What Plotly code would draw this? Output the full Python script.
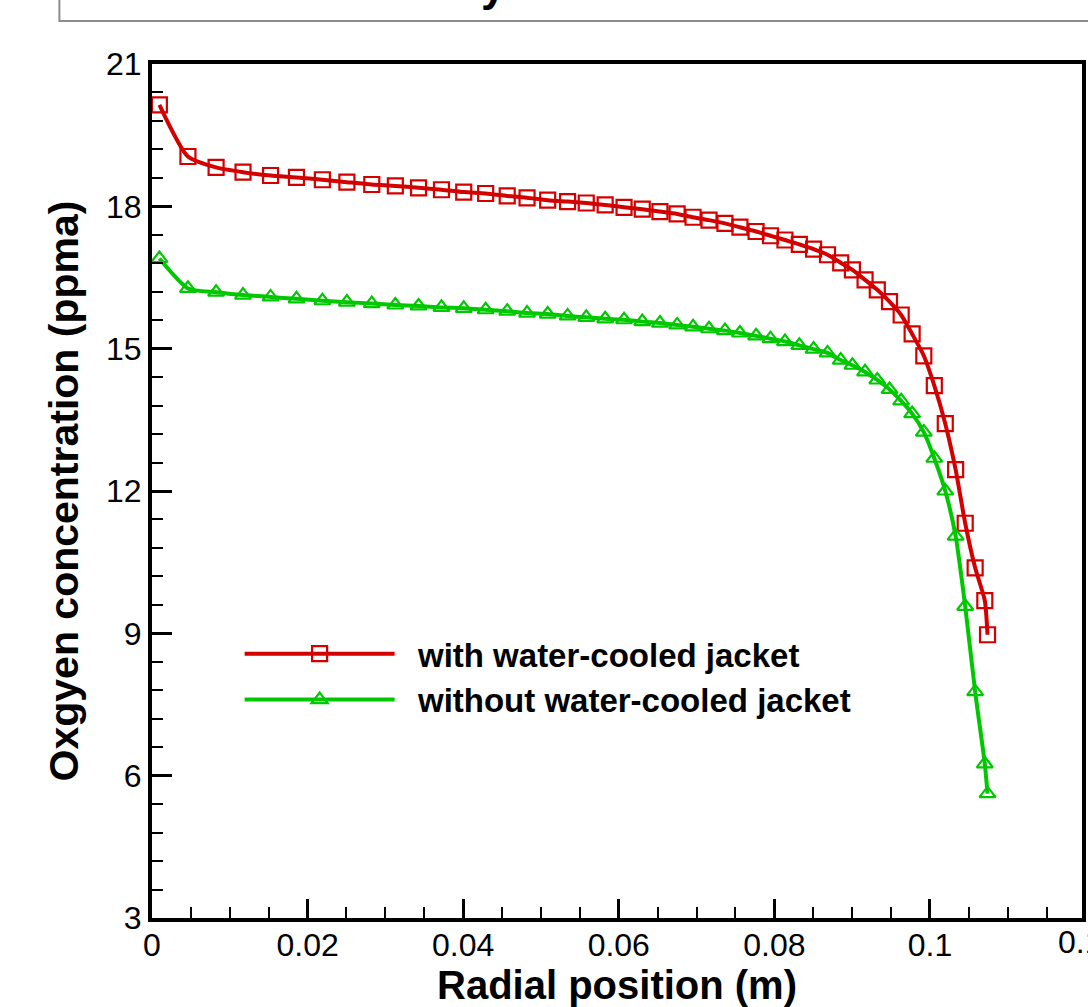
import plotly.graph_objects as go

# ---------------- data ----------------
radial_position = [
    0.00095, 0.00462, 0.00824, 0.01170, 0.01524, 0.01857, 0.02190, 0.02505, 0.02825, 0.03128,
    0.03426, 0.03721, 0.04007, 0.04289, 0.04566, 0.04821, 0.05086, 0.05342, 0.05582, 0.05825,
    0.06068, 0.06302, 0.06529, 0.06750, 0.06955, 0.07160, 0.07365, 0.07557, 0.07765, 0.07950,
    0.08136, 0.08321, 0.08504, 0.08683, 0.08853, 0.09003, 0.09166, 0.09323, 0.09480, 0.09630,
    0.09771, 0.09921, 0.10056, 0.10197, 0.10330, 0.10453, 0.10581, 0.10705, 0.10740,
]
with_jacket = [
    20.14, 19.05, 18.82, 18.72, 18.65, 18.61, 18.56, 18.51, 18.46, 18.43,
    18.39, 18.35, 18.30, 18.27, 18.22, 18.18, 18.13, 18.10, 18.07, 18.03,
    17.98, 17.94, 17.89, 17.84, 17.77, 17.71, 17.64, 17.56, 17.47, 17.38,
    17.29, 17.20, 17.10, 16.98, 16.81, 16.66, 16.45, 16.24, 15.99, 15.71,
    15.31, 14.85, 14.22, 13.42, 12.45, 11.32, 10.38, 9.69, 8.97,
]
without_jacket = [
    16.90, 16.27, 16.19, 16.13, 16.09, 16.05, 16.01, 15.98, 15.95, 15.92,
    15.90, 15.87, 15.85, 15.82, 15.79, 15.75, 15.73, 15.69, 15.66, 15.63,
    15.61, 15.57, 15.54, 15.50, 15.46, 15.42, 15.38, 15.33, 15.27, 15.21,
    15.15, 15.07, 14.99, 14.91, 14.76, 14.65, 14.51, 14.34, 14.14, 13.90,
    13.63, 13.24, 12.69, 12.00, 11.05, 9.57, 7.77, 6.25, 5.62,
]
series_names = ["with water-cooled jacket", "without water-cooled jacket"]
x_tick_vals = [0, 0.02, 0.04, 0.06, 0.08, 0.1]
x_tick_text = ["0", "0.02", "0.04", "0.06", "0.08", "0.1"]
y_tick_vals = [3, 6, 9, 12, 15, 18, 21]
x_title = "Radial position (m)"
y_title = "Oxgyen concentration (ppma)"

# ---------------- style ----------------
W, H = 1088, 1007
L, R, T, B = 152, 2, 64, 88.6
PW = W - L - R
PH = H - T - B
RED = "#d40000"
GREEN = "#00c800"
FONT = "Arial, Liberation Sans, Helvetica, sans-serif"
NBSP = "\u00a0"


def px_x(p):
    return (p - L) / PW


def px_y(p):
    return (H - B - p) / PH


fig = go.Figure()
fig.add_trace(go.Scatter(
    x=radial_position, y=with_jacket, name=NBSP * 2 + series_names[0], mode="lines+markers",
    line=dict(color=RED, width=4, shape="spline", smoothing=0.6),
    marker=dict(symbol="square-open", size=15, color=RED, line=dict(width=2.2, color=RED)),
))
fig.add_trace(go.Scatter(
    x=radial_position, y=without_jacket, name=NBSP * 2 + series_names[1], mode="lines+markers",
    line=dict(color=GREEN, width=4, shape="spline", smoothing=0.6),
    marker=dict(symbol="triangle-up-open", size=14, color=GREEN, line=dict(width=2.2, color=GREEN)),
))

tickfont = dict(family=FONT, size=32, color="black")
fig.update_layout(
    width=W, height=H,
    margin=dict(l=L, r=R, t=T, b=B, pad=0),
    paper_bgcolor="white", plot_bgcolor="white",
    showlegend=True,
    legend=dict(
        x=px_x(240), y=px_y(626), xanchor="left", yanchor="top",
        font=dict(family=FONT, size=33, color="black", weight="bold"),
        itemwidth=150, bgcolor="rgba(0,0,0,0)", borderwidth=0, tracegroupgap=0,
    ),
    xaxis=dict(
        range=[0, PW / 7813.0], tickmode="array", tickvals=x_tick_vals, ticktext=x_tick_text,
        ticks="inside", ticklen=19, tickwidth=3, tickcolor="black",
        showline=True, linewidth=4, linecolor="black", mirror=True,
        showgrid=False, zeroline=False, tickfont=tickfont, ticklabelstandoff=-4,
        minor=dict(tick0=0, dtick=0.005, ticks="inside", ticklen=11, tickwidth=1.5,
                   tickcolor="black", showgrid=False),
        title=dict(text=x_title, font=dict(family=FONT, size=40, color="black", weight="bold"),
                   standoff=7),
    ),
    yaxis=dict(
        range=[3, 21], tickmode="array", tickvals=y_tick_vals,
        ticks="inside", ticklen=20, tickwidth=3, tickcolor="black",
        showline=True, linewidth=4, linecolor="black", mirror=True,
        showgrid=False, zeroline=False, tickfont=tickfont,
        minor=dict(tick0=3, dtick=0.6, ticks="inside", ticklen=11, tickwidth=1.5,
                   tickcolor="black", showgrid=False),
        title=dict(text=y_title, font=dict(family=FONT, size=41, color="black", weight="bold"),
                   standoff=16),
    ),
    shapes=[
        dict(type="rect", xref="paper", yref="paper",
             x0=px_x(59), x1=1.2, y0=px_y(21), y1=1.3,
             line=dict(color="#8c8c8c", width=2), fillcolor="rgba(0,0,0,0)", layer="above"),
    ],
    annotations=[
        dict(text="<b>y</b>", xref="paper", yref="paper", x=px_x(495), y=px_y(12),
             xanchor="center", yanchor="bottom", showarrow=False,
             font=dict(family=FONT, size=44, color="black")),
        dict(text="0.12", xref="paper", yref="paper", x=px_x(1093), y=0,
             xanchor="center", yanchor="top", yshift=-4, showarrow=False,
             font=tickfont),
    ],
)

fig.write_html("out.html")
